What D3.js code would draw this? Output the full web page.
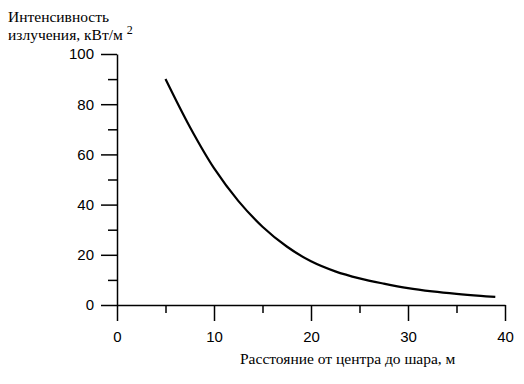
<!DOCTYPE html>
<html>
<head>
<meta charset="utf-8">
<script src="https://cdn.jsdelivr.net/npm/d3@7"></script>
<style>
  body { margin: 0; background: #fff; }
  .tick text { font-family: "Liberation Sans", Arial, sans-serif; font-size: 15px; fill: #000; }
</style>
</head>
<body>
<div id="chart"></div>
<script>
// distance from centre (m) and radiation intensity (kW/m2)
const distance = [5, 7.5, 10, 12.5, 15, 17.5, 20, 22.5, 25, 27.5, 30, 32.5, 35, 37.5, 39];
const intensity = [90, 71, 54.5, 41.5, 31.2, 23.3, 17.4, 13.4, 10.6, 8.5, 6.7, 5.4, 4.4, 3.6, 3.2];
const xTicks = [0, 10, 20, 30, 40];
const yTicks = [0, 20, 40, 60, 80, 100];

const W = 524, H = 384;
const margin = { top: 54, right: 19, bottom: 79, left: 117 },
    width = W - margin.left - margin.right,
    height = H - margin.top - margin.bottom;

const svg = d3.select("#chart")
    .append("svg")
    .attr("width", W)
    .attr("height", H);

const g = svg.append("g")
    .attr("transform", `translate(${margin.left},${margin.top})`);

const x = d3.scaleLinear().domain([0, 40]).range([0, width]);
const y = d3.scaleLinear().domain([0, 100]).range([height, 0]);

// minor ticks
g.append("g")
    .attr("transform", `translate(0,${height})`)
    .call(d3.axisBottom(x).tickValues([5, 15, 25, 35]).tickSize(8).tickFormat(""))
    .call(a => a.select(".domain").remove())
    .selectAll("line").attr("stroke-width", 1.5);
g.append("g")
    .call(d3.axisLeft(y).tickValues([10, 30, 50, 70, 90]).tickSize(9).tickFormat(""))
    .call(a => a.select(".domain").remove())
    .selectAll("line").attr("stroke-width", 1.5);

// X axis
const xAxis = g.append("g")
    .attr("transform", `translate(0,${height})`)
    .call(d3.axisBottom(x).tickValues(xTicks).tickSize(16).tickPadding(10).tickSizeOuter(0));
xAxis.select(".domain").attr("stroke-width", 1.5);
xAxis.selectAll("line").attr("stroke-width", 1.5);

// Y axis
const yAxis = g.append("g")
    .call(d3.axisLeft(y).tickValues(yTicks).tickSize(16).tickPadding(7).tickSizeOuter(0));
yAxis.select(".domain").attr("stroke-width", 1.5);
yAxis.selectAll("line").attr("stroke-width", 1.5);

// curve
const line = d3.line()
    .x((d, i) => x(distance[i]))
    .y(d => y(d))
    .curve(d3.curveCatmullRom);

g.append("path")
    .datum(intensity)
    .attr("fill", "none")
    .attr("stroke", "#000")
    .attr("stroke-width", 2.2)
    .attr("d", line);

// titles
const serif = "'Liberation Serif', 'Times New Roman', serif";
const yTitle = svg.append("text")
    .attr("x", 8)
    .attr("y", 22)
    .attr("font-family", serif)
    .attr("font-size", 15.5)
    .attr("fill", "#000");
yTitle.append("tspan").attr("x", 8).attr("y", 22).text("Интенсивность");
yTitle.append("tspan").attr("x", 8).attr("y", 40).text("излучения, кВт/м ");
yTitle.append("tspan").attr("dy", -6).attr("font-size", 12).text("2");

svg.append("text")
    .attr("x", 240)
    .attr("y", 364)
    .attr("font-family", serif)
    .attr("font-size", 15.5)
    .attr("fill", "#000")
    .text("Расстояние от центра до шара, м");
</script>
</body>
</html>
